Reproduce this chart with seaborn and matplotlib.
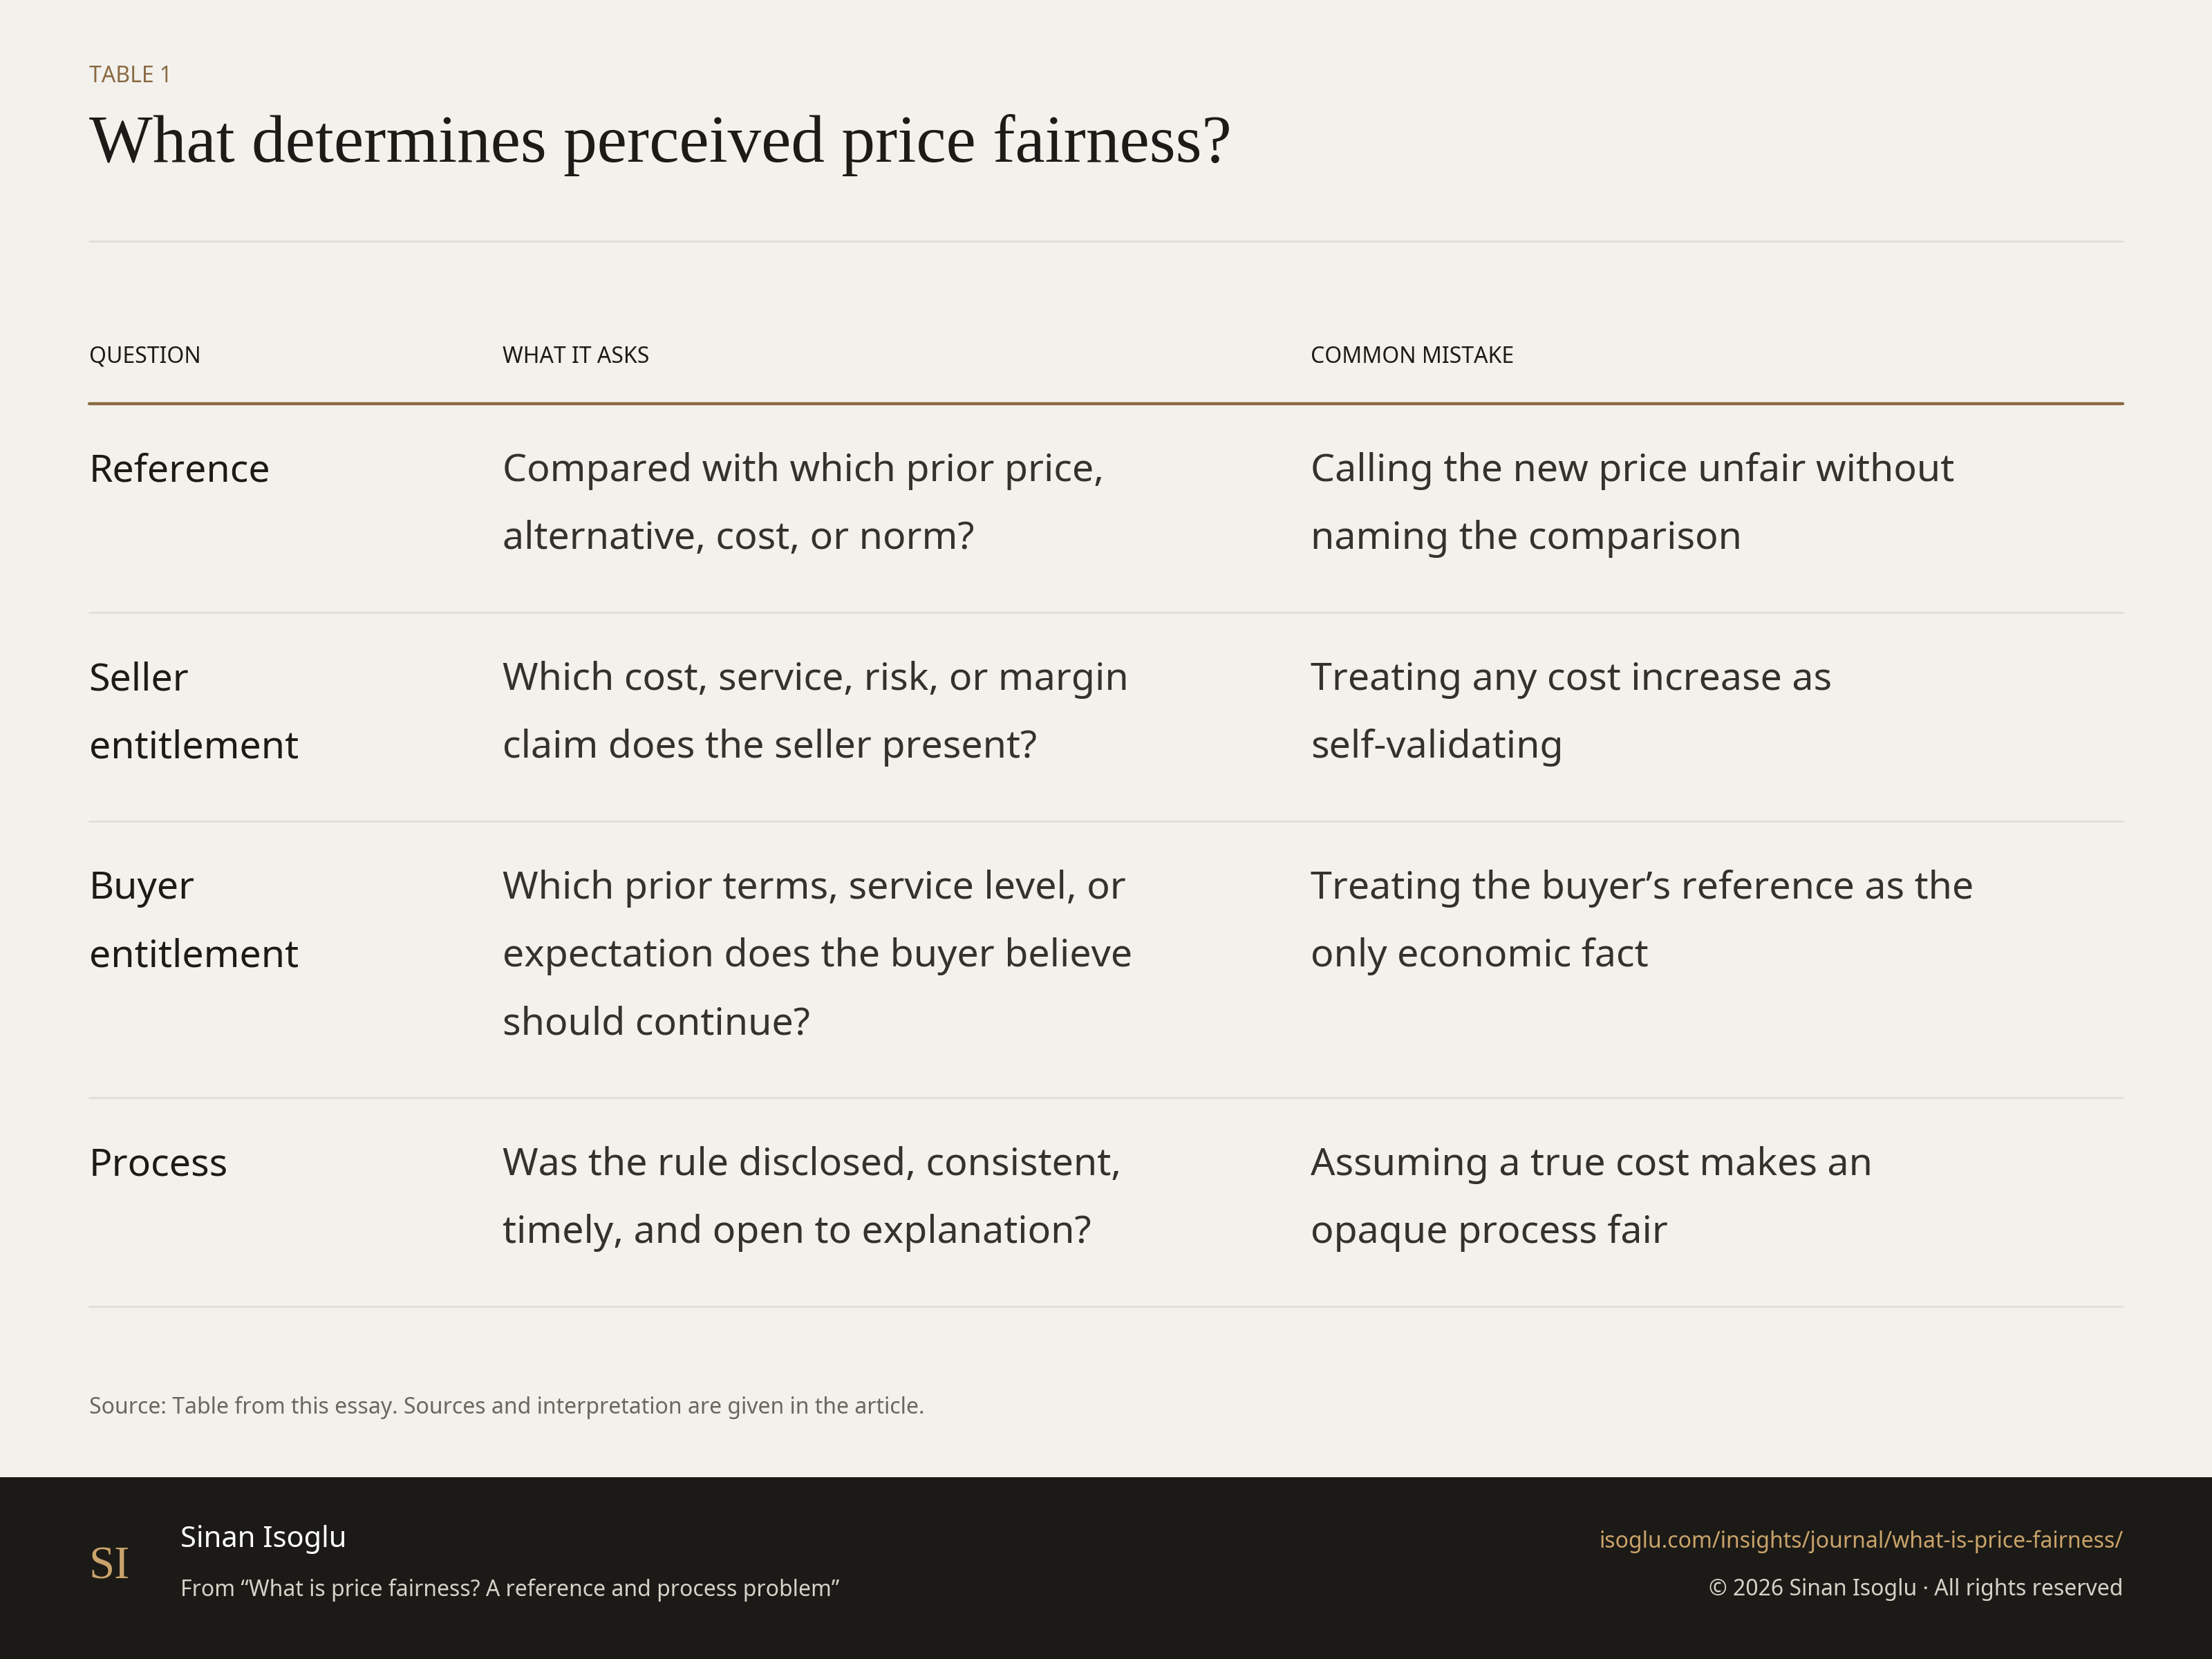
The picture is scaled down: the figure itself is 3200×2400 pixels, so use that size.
import matplotlib
matplotlib.use("Agg")
import matplotlib.pyplot as plt
import seaborn as sns

# ==========================================================
# DATA
# ==========================================================

kicker = "TABLE 1"
title = "What determines perceived price fairness?"
headers = ["QUESTION", "WHAT IT ASKS", "COMMON MISTAKE"]

questions = [
    ["Reference"],
    ["Seller", "entitlement"],
    ["Buyer", "entitlement"],
    ["Process"],
]
asks = [
    ["Compared with which prior price,", "alternative, cost, or norm?"],
    ["Which cost, service, risk, or margin", "claim does the seller present?"],
    ["Which prior terms, service level, or", "expectation does the buyer believe", "should continue?"],
    ["Was the rule disclosed, consistent,", "timely, and open to explanation?"],
]
mistakes = [
    ["Calling the new price unfair without", "naming the comparison"],
    ["Treating any cost increase as", "self-validating"],
    ["Treating the buyer\u2019s reference as the", "only economic fact"],
    ["Assuming a true cost makes an", "opaque process fair"],
]

source = "Source: Table from this essay. Sources and interpretation are given in the article."
author = "Sinan Isoglu"
subtitle = "From \u201cWhat is price fairness? A reference and process problem\u201d"
url = "isoglu.com/insights/journal/what-is-price-fairness/"
rights = "\u00a9 2026 Sinan Isoglu \u00b7 All rights reserved"

# ==========================================================
# STYLE
# ==========================================================

sns.set_theme(style="white")
plt.rcParams["font.family"] = ["Noto Sans", "DejaVu Sans"]

BG = "#f3f1ec"
INK = "#1d1b17"
BODY = "#35322c"
BROWN = "#8b6a43"
RULE = "#e2ded6"
DARK = "#1c1a16"
GOLD = "#c9a36a"

W, H = 1568, 1176
fig = plt.figure(figsize=(16, 12), dpi=200)
fig.patch.set_facecolor(BG)
ax = fig.add_axes([0, 0, 1, 1])
ax.set_xlim(0, W)
ax.set_ylim(H, 0)
ax.axis("off")

L, R = 63, 1505
cols = [63, 356, 929]

# header
ax.text(L, 54, kicker, fontsize=11.5, color=BROWN, va="center",
        fontweight="semibold")
ax.text(L, 103, title, fontsize=35, color=INK, va="center",
        family=["Liberation Serif", "DejaVu Serif"])
ax.plot([L, R], [171, 171], color=RULE, lw=1)

for x, h in zip(cols, headers):
    ax.text(x, 253, h, fontsize=11.5, color=INK, va="center", fontweight="bold")
ax.plot([L, R], [286, 286], color=BROWN, lw=1.6)

# rows
top = 286
step = 48
for q, a, m in zip(questions, asks, mistakes):
    n = max(len(q), len(a), len(m))
    for x, lines, c in zip(cols, [q, a, m], [INK, BODY, BODY]):
        for i, line in enumerate(lines):
            ax.text(x, top + step * (i + 1), line, fontsize=20, color=c,
                    va="center")
    sep = top + step * (n - 1) + 100
    ax.plot([L, R], [sep, sep], color=RULE, lw=1)
    top = sep

ax.text(L, 998, source, fontsize=11.5, color="#6b675f", va="center")

# footer
ax.axhspan(1047, H, color=DARK, lw=0)
ax.text(63, 1111, "SI", fontsize=24, color=GOLD, va="center",
        family=["Liberation Serif", "DejaVu Serif"])
ax.text(128, 1091, author, fontsize=15, color="white", va="center",
        fontweight="bold")
ax.text(128, 1127, subtitle, fontsize=11.5, color="#d6d2c8", va="center")
ax.text(R, 1093, url, fontsize=11.5, color=GOLD, va="center", ha="right")
ax.text(R, 1127, rights, fontsize=11.5, color="#d6d2c8", va="center", ha="right")

fig.savefig("out.png", dpi=200, facecolor=BG)
